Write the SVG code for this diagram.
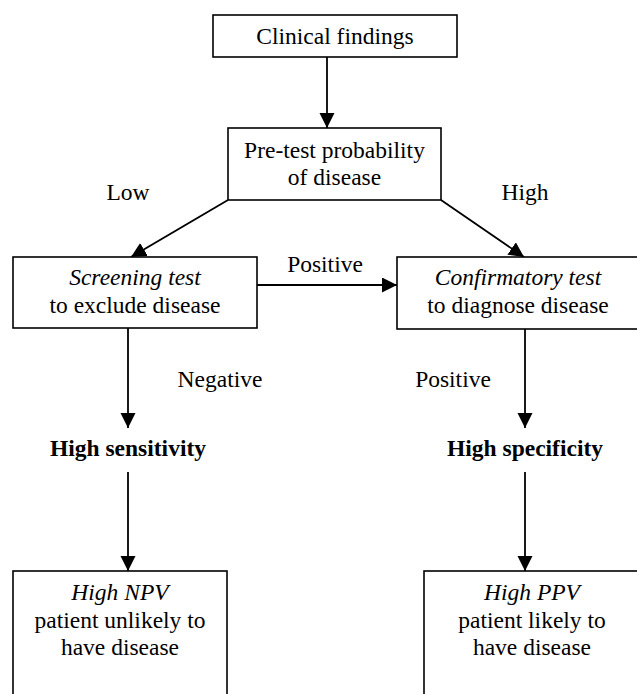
<svg xmlns="http://www.w3.org/2000/svg" width="637" height="694" viewBox="0 0 637 694">
<style>
text { font-family: "Liberation Serif", "DejaVu Serif", serif; font-size: 23.5px; fill: #000; }
.c { text-anchor: middle; }
.i { font-style: italic; }
.b { font-weight: bold; }
.box { fill: #fff; stroke: #000; stroke-width: 1.6; }
.ln { fill: none; stroke: #000; stroke-width: 1.8; marker-end: url(#ah); }
</style>
<defs>
<marker id="ah" markerUnits="userSpaceOnUse" markerWidth="16" markerHeight="16" refX="15" refY="7.5" orient="auto">
<path d="M0,0 L15,7.5 L0,15 z" fill="#000"/>
</marker>
</defs>
<rect width="637" height="694" fill="#fff"/>
<g id="connectors">
<line class="ln" x1="327" y1="57" x2="327" y2="128"/>
<line class="ln" x1="228" y1="200" x2="131" y2="257"/>
<line class="ln" x1="441" y1="200" x2="524" y2="257"/>
<line class="ln" x1="257" y1="285" x2="397" y2="285"/>
<line class="ln" x1="128" y1="328" x2="128" y2="428"/>
<line class="ln" x1="525" y1="329" x2="525" y2="428"/>
<line class="ln" x1="128" y1="472" x2="128" y2="571"/>
<line class="ln" x1="525" y1="472" x2="525" y2="571"/>
<text x="128" y="200" class="c">Low</text>
<text x="525" y="200" class="c">High</text>
<text x="325" y="272" class="c">Positive</text>
<text x="220" y="387" class="c">Negative</text>
<text x="453" y="387" class="c">Positive</text>
</g>
<g id="clinical">
<rect class="box" x="213" y="15" width="244" height="42"/>
<text x="335" y="44" class="c">Clinical findings</text>
</g>
<g id="pretest">
<rect class="box" x="228" y="128" width="213" height="72"/>
<text x="334.5" y="158" class="c">Pre-test probability</text>
<text x="334.5" y="185" class="c">of disease</text>
</g>
<g id="screening">
<rect class="box" x="13" y="257" width="244" height="71"/>
<text x="135" y="285" class="c i">Screening test</text>
<text x="135" y="313" class="c">to exclude disease</text>
</g>
<g id="confirmatory">
<rect class="box" x="397" y="257" width="250" height="72"/>
<text x="518" y="285" class="c i">Confirmatory test</text>
<text x="518" y="313" class="c">to diagnose disease</text>
</g>
<g id="sensitivity">
<text x="128" y="456" class="c b">High sensitivity</text>
</g>
<g id="specificity">
<text x="525" y="456" class="c b">High specificity</text>
</g>
<g id="npv">
<rect class="box" x="13" y="571" width="214" height="130"/>
<text x="120" y="600" class="c i">High NPV</text>
<text x="120" y="628" class="c">patient unlikely to</text>
<text x="120" y="655" class="c">have disease</text>
</g>
<g id="ppv">
<rect class="box" x="424" y="571" width="220" height="130"/>
<text x="532" y="600" class="c i">High PPV</text>
<text x="532" y="628" class="c">patient likely to</text>
<text x="532" y="655" class="c">have disease</text>
</g>
</svg>
